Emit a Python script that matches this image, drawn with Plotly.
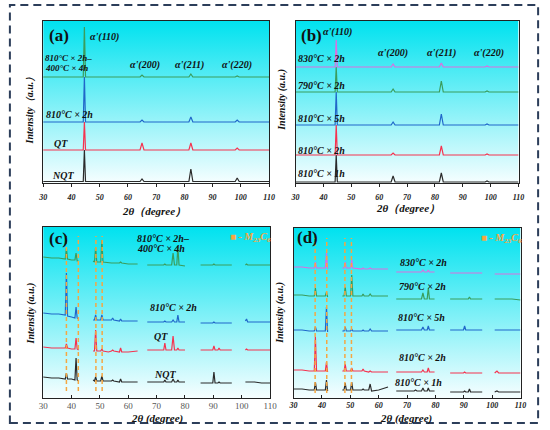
import plotly.graph_objects as go

SERIF = "Liberation Serif"

# ---- panels (a) and (b): 2theta grid shared by every curve ----
two_theta_ab = [30, 44.2, 44.6, 45.0, 64.3, 65.0, 65.7, 81.6, 82.3, 83.0, 98.0, 98.7, 99.4, 110]

a_nqt = [1.5, 1.5, 33, 1.5, 1.5, 4, 1.5, 1.5, 14, 1.5, 1.5, 5, 1.5, 1.5]
a_qt = [33, 33, 61, 33, 33, 40, 33, 33, 40, 33, 33, 35, 33, 33]
a_810_2h = [61, 61, 106, 61, 61, 63, 61, 61, 66, 61, 61, 63, 61, 61]
a_810_2h_400_4h = [106, 106, 156, 106, 106, 108, 106, 106, 109, 106, 106, 107, 106, 106]

b_810_1h = [1, 1, 28, 1, 1, 7, 1, 1, 10, 1, 1, 2, 1, 1]
b_810_2h = [28, 28, 58, 28, 28, 30, 28, 28, 37, 28, 28, 29, 28, 28]
b_810_5h = [58, 58, 91, 58, 58, 61, 58, 58, 69, 58, 58, 59, 58, 58]
b_790_2h = [91, 91, 116, 91, 91, 94, 91, 91, 102, 91, 91, 92, 91, 91]
b_830_2h = [116, 116, 143, 116, 116, 119, 116, 116, 120, 116, 116, 117, 116, 116]

# ---- panel (c): zoomed scans, gaps between the measured windows ----
two_theta_c = [30, 33, 35.5, 37.8, 38.2, 38.6, 40.0, 41.2, 41.6, 42.0, 42.5, None,
               47.6, 48.1, 48.5, 48.9, 50.3, 50.7, 51.1, 53.0, 54.1, 54.5, 54.9, 56.9, 57.3, 57.7, 60.0, 63.3, None,
               66.7, 69.5, 72.5, 72.9, 73.3, 75.3, 75.8, 76.3, 77.1, 77.5, 77.9, 80.0, None,
               85.5, 88.0, 89.8, 90.2, 90.6, 91.6, 92.0, 92.4, 96.5, None,
               101.3, 101.7, 102.1, 104.5, 107.0, 110]

c_nqt = [21, 20, 20, 19, 25, 19, 19, 18, 40, 18, 17, None,
         18, 17, 21, 17, 17, 22, 17, 17, 17, 18, 17, 16, 19, 16, 16, 16, None,
         16, 16, 16, 18, 16, 16, 19, 16, 16, 18, 16, 16, None,
         15, 15, 15, 26, 15, 15, 16, 15, 15, None,
         16, 16, 16, 16, 15, 15]
c_qt = [51, 50, 50, 50, 54, 50, 49, 49, 60, 49, 48, None,
        47, 47, 68, 47, 47, 49, 47, 46, 47, 48, 47, 46, 50, 46, 46, 47, None,
        48, 48, 48, 55, 48, 48, 62, 48, 48, 50, 48, 48, None,
        48, 48, 48, 52, 48, 48, 50, 48, 48, None,
        48, 49, 48, 48, 48, 48]
c_810_2h = [85, 84, 84, 83, 125, 82, 81, 80, 91, 80, 79, None,
            78, 78, 83, 78, 78, 83, 78, 78, 78, 80, 78, 77, 79, 77, 77, 77, None,
            76, 76, 76, 77, 76, 76, 78, 76, 76, 83, 76, 76, None,
            75, 75, 75, 76, 75, 75, 75, 75, 75, None,
            77, 79, 76, 76, 76, 76]
c_810_2h_400_4h = [141, 140, 140, 139, 150, 139, 138, 138, 145, 137, 137, None,
                   137, 136, 151, 136, 136, 158, 136, 135, 135, 135, 135, 135, 136, 135, 134, 134, None,
                   133, 133, 133, 134, 133, 133, 145, 133, 133, 151, 133, 132, None,
                   133, 133, 133, 134, 133, 133, 133, 133, 133, None,
                   133, 134, 133, 133, 133, 133]
c_carbide = [38.2, 42.4, 48.6, 50.8]

# ---- panel (d) ----
two_theta_d = [30, 33, 35.5, 37.3, 37.7, 38.1, 40.0, 41.2, 41.6, 42.0, None,
               47.2, 47.8, 48.2, 48.6, 50.1, 50.5, 50.9, 53.0, 54.1, 54.5, 54.9, 56.5, 57.0, 57.5, 60.0, 63.3, None,
               66.2, 69.5, 72.5, 73.0, 73.5, 75.1, 75.6, 76.1, 77.1, 77.5, 77.9, 79.7, None,
               85.2, 88.0, 89.9, 90.3, 90.7, 91.6, 92.0, 92.4, 96.5, None,
               100.9, 101.7, 102.3, 104.5, 107.0, 110]

d_810_1h = [9, 9, 8, 8, 16, 8, 8, 8, 18, 7, None,
            8, 8, 15, 8, 8, 16, 8, 8, 8, 9, 8, 8, 14, 7, 8, 11, None,
            7, 7, 7, 8, 7, 7, 10, 7, 7, 10, 7, 7, None,
            6, 6, 6, 7, 6, 6, 9, 6, 6, None,
            6, 7, 6, 6, 6, 6]
d_810_2h = [28, 28, 27, 27, 61, 27, 27, 27, 36, 26, None,
            27, 27, 34, 27, 27, 30, 27, 27, 27, 29, 27, 26, 27, 26, 26, 26, None,
            26, 26, 26, 26, 26, 26, 28, 26, 26, 30, 26, 26, None,
            25, 25, 25, 26, 25, 25, 25, 25, 25, None,
            25, 27, 25, 25, 25, 25]
d_810_5h = [68, 68, 67, 67, 71, 67, 67, 67, 91, 66, None,
            67, 67, 71, 67, 67, 69, 67, 67, 67, 68, 67, 67, 69, 67, 67, 67, None,
            68, 68, 68, 68, 68, 68, 71, 68, 68, 72, 68, 68, None,
            68, 68, 68, 72, 68, 68, 68, 68, 68, None,
            68, 68, 68, 68, 68, 68]
d_790_2h = [103, 103, 102, 102, 110, 102, 102, 102, 106, 101, None,
            102, 102, 111, 102, 102, 123, 102, 102, 102, 104, 102, 102, 104, 102, 102, 102, None,
            99, 99, 99, 99, 99, 99, 105, 99, 99, 110, 99, 99, None,
            99, 99, 99, 99, 99, 99, 101, 99, 99, None,
            99, 99, 99, 99, 99, 98]
d_830_2h = [131, 131, 130, 130, 136, 130, 130, 130, 145, 129, None,
            130, 130, 136, 130, 130, 138, 130, 129, 129, 130, 129, 129, 130, 129, 129, 129, None,
            126, 126, 126, 126, 126, 126, 128, 126, 126, 128, 126, 126, None,
            125, 125, 125, 125, 125, 125, 125, 125, 125, None,
            124, 124, 124, 124, 124, 124]
d_carbide = [37.6, 41.7, 48.1, 50.4]

x_ticks = [30, 40, 50, 60, 70, 80, 90, 100, 110]

BLACK = "#2b2b2b"
RED = "#f5334f"
BLUE = "#2067c9"
GREEN = "#3a9d5d"
MAGENTA = "#dc6ee0"
ORANGE = "#f5a742"

W, H = 550, 430
# plot boxes in pixels: left, right, top, bottom
boxes = {
    "": (39, 270, 21, 183),
    "2": (297, 525, 21, 183),
    "3": (39, 271, 227, 398),
    "4": (295, 527, 228, 398),
}
y_top = {"": 162, "2": 162, "3": 171, "4": 170}

fig = go.Figure()

# gradient backgrounds first so they sit under the curves
for k in boxes:
    fig.add_trace(go.Scatter(
        x=[30, 110, 110, 30, 30], y=[0, 0, y_top[k], y_top[k], 0],
        xaxis="x" + k, yaxis="y" + k, mode="lines", line=dict(width=0),
        fill="toself", fillcolor="#7ff0f5",
        fillgradient=dict(type="vertical", colorscale=[[0, "#f6feff"], [1, "#00e2ef"]]),
        hoverinfo="skip", showlegend=False,
    ))


def curve(x, y, color, k):
    fig.add_trace(go.Scatter(x=x, y=y, xaxis="x" + k, yaxis="y" + k, mode="lines",
                             line=dict(color=color, width=1.2), connectgaps=False,
                             hoverinfo="skip", showlegend=False))


for y, c in [(a_nqt, BLACK), (a_qt, RED), (a_810_2h, BLUE), (a_810_2h_400_4h, GREEN)]:
    curve(two_theta_ab, y, c, "")
for y, c in [(b_810_1h, BLACK), (b_810_2h, RED), (b_810_5h, BLUE), (b_790_2h, GREEN), (b_830_2h, MAGENTA)]:
    curve(two_theta_ab, y, c, "2")
for y, c in [(c_nqt, BLACK), (c_qt, RED), (c_810_2h, BLUE), (c_810_2h_400_4h, GREEN)]:
    curve(two_theta_c, y, c, "3")
for y, c in [(d_810_1h, BLACK), (d_810_2h, RED), (d_810_5h, BLUE), (d_790_2h, GREEN), (d_830_2h, MAGENTA)]:
    curve(two_theta_d, y, c, "4")

# M23C6 guide lines
for pos, k, lo, hi in [(c_carbide, "3", 7, 162), (d_carbide, "4", 5, 160)]:
    xs, ys = [], []
    for p in pos:
        xs += [p, p, None]
        ys += [lo, hi, None]
    fig.add_trace(go.Scatter(x=xs, y=ys, xaxis="x" + k, yaxis="y" + k, mode="lines",
                             line=dict(color=ORANGE, width=1.5, dash="4px,3px"),
                             hoverinfo="skip", showlegend=False))

layout = dict(
    width=W, height=H, margin=dict(l=0, r=0, t=0, b=0),
    paper_bgcolor="white", plot_bgcolor="white", showlegend=False,
)
for k, (l, r, t, b) in boxes.items():
    plain = k == "3"
    top_row = k in ("", "2")
    layout["xaxis" + k] = dict(
        domain=[l / W, r / W], anchor="y" + k, range=[30, 110],
        tickvals=x_ticks, ticks="outside" if top_row else "inside", ticklen=3, tickcolor="#222",
        ticklabelstandoff=3 if top_row else -1,
        showline=True, mirror=True, linecolor="#222", linewidth=1,
        showgrid=False, zeroline=False,
        tickfont=dict(family=SERIF, size=9 if plain else 8, color="#555" if plain else "#222",
                      weight="normal" if plain else "bold", style="normal" if plain else "italic"),
    )
    layout["yaxis" + k] = dict(
        domain=[1 - b / H, 1 - t / H], anchor="x" + k, range=[0, y_top[k]],
        showticklabels=False, ticks="", showline=True, mirror=True,
        linecolor="#222", linewidth=1, showgrid=False, zeroline=False,
    )
fig.update_layout(**layout)


def note(text, x, y, k, size=10, anchor="left", color="#111", bold=True, italic=True):
    fig.add_annotation(text=text, x=x, y=y, xref="x" + k, yref="y" + k, showarrow=False,
                       xanchor=anchor, yanchor="middle",
                       font=dict(family=SERIF, size=size, color=color,
                                 weight="bold" if bold else "normal",
                                 style="italic" if italic else "normal"))


def paper_note(text, px, py, size=11, angle=0):
    fig.add_annotation(text=text, x=px / W, y=1 - py / H, xref="paper", yref="paper",
                       showarrow=False, textangle=angle, xanchor="center", yanchor="middle",
                       font=dict(family=SERIF, size=size, color="#111", weight="bold", style="italic"))


# panel letters
for lab, k, x, y in [("(a)", "", 31.2, 148), ("(b)", "2", 31.3, 148),
                     ("(c)", "3", 31.3, 160), ("(d)", "4", 30.5, 160)]:
    note(lab, x, y, k, size=17, italic=False)

# (a)
note("α'(110)", 45.8, 146, "")
note("810°C × 2h–", 30.0, 125, "", size=9)
note("400°C × 4h", 30.0, 115, "", size=9)
note("810°C × 2h", 30.3, 69, "")
note("QT", 36.3, 40, "", anchor="center")
note("NQT", 37.0, 8, "", anchor="center")
for lab, x in [("α'(200)", 65.9), ("α'(211)", 81.7), ("α'(220)", 98.7)]:
    note(lab, x, 118, "", anchor="center")

# (b)
note("α'(110)", 45.1, 151, "2", anchor="center")
for lab, y in [("830°C × 2h", 125), ("790°C × 2h", 98), ("810°C × 5h", 65),
               ("810°C × 2h", 33), ("810°C × 1h", 10)]:
    note(lab, 30.3, y, "2")
for lab, x in [("α'(200)", 65.0), ("α'(211)", 82.5), ("α'(220)", 99.5)]:
    note(lab, x, 130, "2", anchor="center")

# (c)
note("810°C × 2h–", 62.4, 160, "3")
note("400°C × 4h", 62.4, 150, "3")
note("810°C × 2h", 67.1, 91, "3")
note("QT", 71.5, 62, "3", anchor="center")
note("NQT", 72.9, 24, "3", anchor="center")

# (d)
for lab, x, y in [("830°C × 2h", 66.8, 136), ("790°C × 2h", 66.4, 112), ("810°C × 5h", 66.2, 81),
                  ("810°C × 2h", 66.4, 41), ("810°C × 1h", 65.1, 16)]:
    note(lab, x, y, "4")

# M23C6 keys
for k, y in [("3", 161), ("4", 159)]:
    note("■ - M<sub>23</sub>C<sub>6</sub>", 95.3, y, k, color=ORANGE)

# axis titles
paper_note("2θ（degree）", 152, 211)
paper_note("2θ（degree）", 412, 209)
paper_note("2θ (degree)", 155, 418)
paper_note("2θ (degree)", 410, 418)
paper_note("Intensity（a.u.）", 25, 108, size=10, angle=-90)
paper_note("Intensity (a.u.)", 283, 100, size=10, angle=-90)
paper_note("Intensity (a.u.)", 27, 313, size=10, angle=-90)
paper_note("Intensity (a.u.)", 281, 313, size=10, angle=-90)

# dashed frame around the whole figure
fig.add_shape(type="rect", xref="paper", yref="paper",
              x0=5 / W, x1=545 / W, y0=1 - 423 / H, y1=1 - 5 / H,
              line=dict(color="#2c3e5a", width=2, dash="8px,5px"))

fig.write_html("out.html", config={"displayModeBar": False},
               post_script="document.body.style.margin='0';")
